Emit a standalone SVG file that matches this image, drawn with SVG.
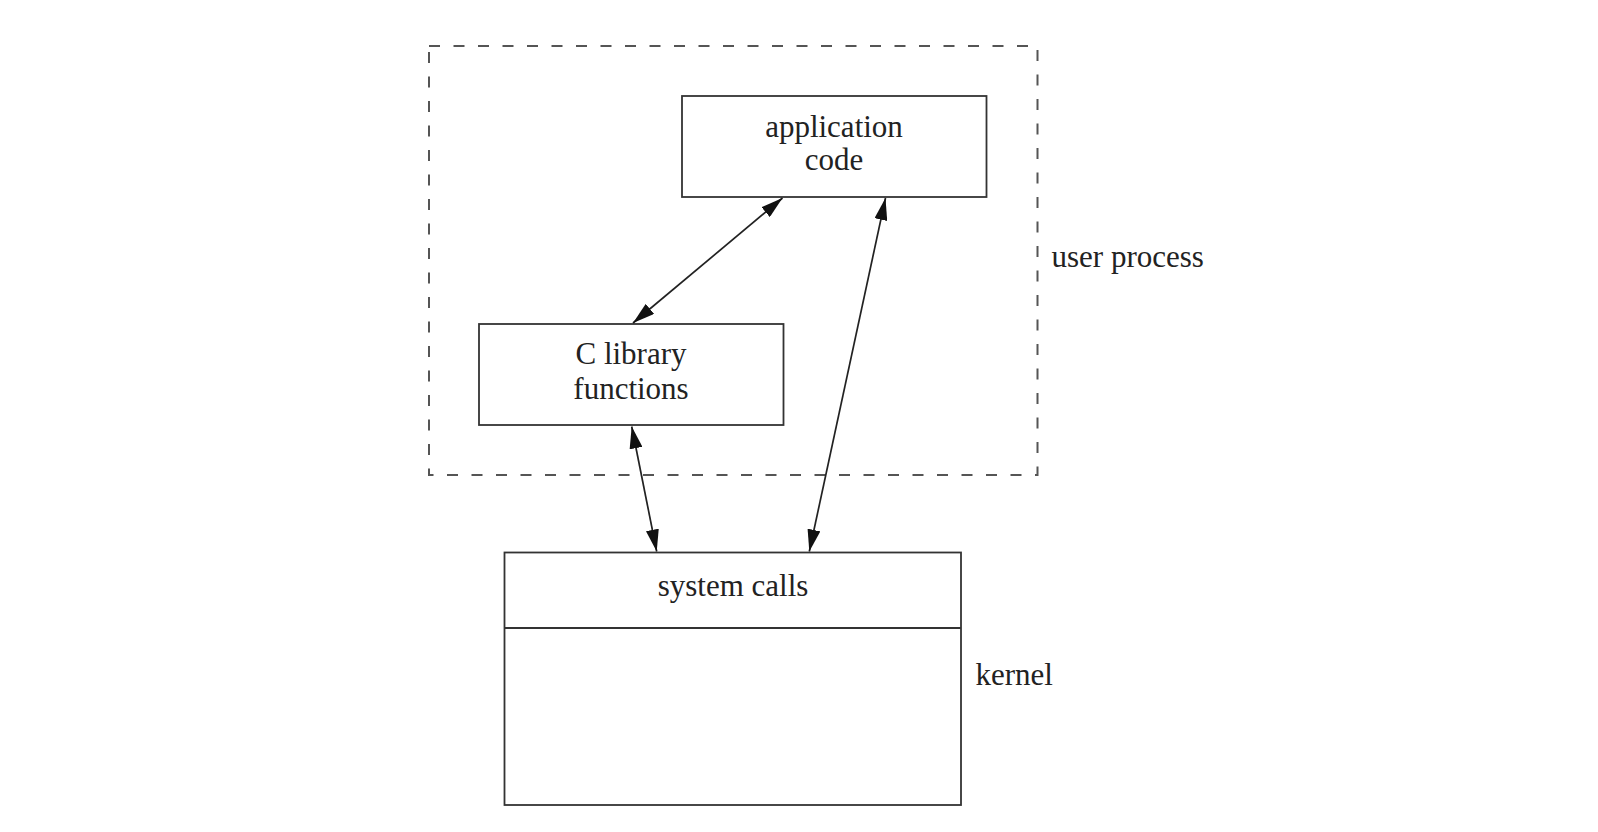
<svg xmlns="http://www.w3.org/2000/svg" width="1598" height="832" viewBox="0 0 1598 832">
<defs>
<style>
.box{fill:none;stroke:#333;stroke-width:1.8}
.dash{fill:none;stroke:#555;stroke-width:2;stroke-dasharray:11 13.5}
.lbl{font-family:"Liberation Serif","Times New Roman",serif;font-size:31px;fill:#222}
.c{text-anchor:middle}
.conn{stroke:#222;stroke-width:1.7;fill:none;marker-start:url(#ah);marker-end:url(#ah)}
</style>
<marker id="ah" viewBox="0 0 22 13" refX="22" refY="6.5" markerWidth="22" markerHeight="13" markerUnits="userSpaceOnUse" orient="auto-start-reverse">
<path d="M0,0 L22,6.5 L0,13 z" fill="#111"/>
</marker>
</defs>
<rect width="1598" height="832" fill="#fff"/>
<g id="user-process">
<rect class="dash" x="429" y="46" width="608.5" height="429"/>
<text class="lbl" x="1051.5" y="267">user process</text>
</g>
<g id="application-code">
<rect class="box" x="682" y="96" width="304.5" height="101"/>
<text class="lbl c" x="834" y="136.5">application</text>
<text class="lbl c" x="834" y="170">code</text>
</g>
<g id="c-library">
<rect class="box" x="479" y="324" width="304.5" height="101"/>
<text class="lbl c" x="631" y="364">C library</text>
<text class="lbl c" x="631" y="398.5">functions</text>
</g>
<g id="kernel">
<rect class="box" x="504.5" y="552.5" width="456.5" height="252.5"/>
<line class="box" x1="504.5" y1="628" x2="961" y2="628"/>
<text class="lbl c" x="733" y="596">system calls</text>
<text class="lbl" x="975.5" y="685">kernel</text>
</g>
<g id="connectors">
<line class="conn" x1="633" y1="323" x2="782.5" y2="198"/>
<line class="conn" x1="809.3" y1="551.5" x2="885.5" y2="198"/>
<line class="conn" x1="631.7" y1="426.5" x2="656.7" y2="551.5"/>
</g>
</svg>
